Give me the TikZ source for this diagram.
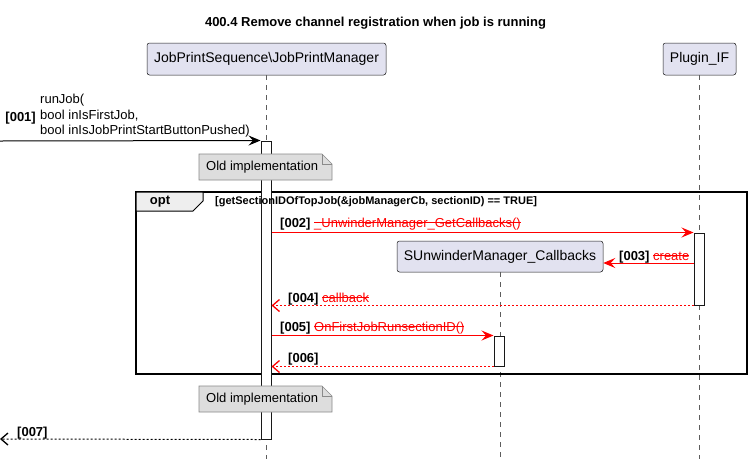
\documentclass[tikz,border=0pt]{standalone}
\usepackage{fontspec}
\setmainfont{Liberation Sans}
\usetikzlibrary{arrows.meta}

\definecolor{partfill}{HTML}{E2E2F0}
\definecolor{partline}{HTML}{181818}
\definecolor{notefill}{HTML}{DDDDDD}
\definecolor{notelineC}{HTML}{8A8A8A}
\definecolor{optfill}{HTML}{EEEEEE}
\definecolor{msgred}{HTML}{FF0000}

\newsavebox{\strkbox}
\newcommand{\strk}[1]{\sbox{\strkbox}{#1}\rlap{\raisebox{0.32em}{\rule{\wd\strkbox}{0.9pt}}}\usebox{\strkbox}}

\tikzset{
  part/.style={draw=partline, fill=partfill, rounded corners=2.5pt, line width=0.5pt,
    minimum height=32pt, inner sep=0pt, font=\fontsize{14}{16}\selectfont},
  life/.style={draw=partline!70, dash pattern=on 5pt off 5pt, line width=0.5pt},
  actbar/.style={draw=partline, fill=white, line width=1pt, minimum width=10pt, inner sep=0pt},
  call/.style={line width=1pt, -{Stealth[length=12pt,width=10pt,inset=4.5pt]}},
  ret/.style={line width=1pt, dash pattern=on 2pt off 2pt, -{Straight Barb[length=7pt,width=12pt,line width=1.3pt]}},
  msgtxt/.style={font=\fontsize{13}{15.5}\selectfont, inner sep=0pt, anchor=base west},
  notebox/.style={draw=notelineC, fill=notefill, line width=0.7pt},
  notetxt/.style={font=\fontsize{13}{15}\selectfont, inner sep=0pt, anchor=west}
}

\begin{document}
\begin{tikzpicture}[x=1pt,y=-1pt]
  \useasboundingbox[fill=white] (0,0) rectangle (751,464);

  % title
  \node[font=\bfseries\fontsize{13}{15}\selectfont] (title) at (375.5,23) {400.4 Remove channel registration when job is running};

  % participants
  \node[part, minimum width=239pt] (jpm) at (266.5,59) {JobPrintSequence\textbackslash JobPrintManager};
  \node[part, minimum width=73pt] (plug) at (699.5,59) {Plugin\_IF};
  \node[part, minimum width=206pt, minimum height=31pt] (sumc) at (500,256.5) {SUnwinderManager\_Callbacks};

  % lifelines
  \draw[life] (jpm.south) -- (jpm.south |- 0,459);
  \draw[life] (plug.south) -- (plug.south |- 0,459);
  \draw[life] (sumc.south) -- (sumc.south |- 0,459);

  % opt frame
  \draw[line width=1.5pt] (136,192) rectangle (747,374);
  \draw[fill=optfill, line width=1pt] (136,192) -- (203,192) -- (203,201) -- (193,211) -- (136,211) -- cycle;
  \node[font=\bfseries\fontsize{13}{15}\selectfont] (optlbl) at (160,202) {opt};

  % activations
  \node[actbar, minimum height=298pt] (act1) at (266,290) {};
  \node[actbar, minimum height=72pt] (act2) at (699,269) {};
  \node[actbar, minimum height=30pt] (act3) at (499,351) {};

  \node[font=\bfseries\fontsize{11}{13}\selectfont, anchor=west, inner sep=0pt] (cond) at (215,202)
    {[getSectionIDOfTopJob(\&jobManagerCb, sectionID) == TRUE]};

  % [001]
  \coordinate (in1) at (0,141);
  \draw[call] (in1) -- (act1.north west);
  \node[msgtxt, font=\bfseries\fontsize{13}{15}\selectfont, anchor=base east] (n1) at (36,121) {[001]};
  \node[font=\fontsize{13}{15.5}\selectfont, align=left, anchor=west, inner sep=0pt] (t1) at (40,116)
    {runJob(\\bool inIsFirstJob,\\bool inIsJobPrintStartButtonPushed)};

  % [002]
  \draw[call, msgred] (act1.east |- act2.north) -- (act2.north west);
  \node[msgtxt] (t2) at (280,227) {\textbf{[002]} \textcolor{msgred}{\strk{\_UnwinderManager\_GetCallbacks()}}};

  % [003]
  \coordinate (c3) at (0,263);
  \draw[call, msgred] (act2.west |- c3) -- (sumc.east |- c3);
  \node[msgtxt] (t3) at (619,260) {\textbf{[003]} \textcolor{msgred}{\strk{create}}};

  % [004]
  \draw[ret, msgred] (act2.south west) -- (act1.east |- act2.south);
  \node[msgtxt] (t4) at (288,302) {\textbf{[004]} \textcolor{msgred}{\strk{callback}}};

  % [005]
  \draw[call, msgred] (act1.east |- act3.north) -- (act3.north west);
  \node[msgtxt] (t5) at (280,331) {\textbf{[005]} \textcolor{msgred}{\strk{OnFirstJobRunsectionID()}}};

  % [006]
  \draw[ret, msgred] (act3.south west) -- (act1.east |- act3.south);
  \node[msgtxt] (t6) at (288,362) {\textbf{[006]}};

  % [007]
  \coordinate (out7) at (0,439);
  \draw[ret] (act1.south west) -- (out7);
  \node[msgtxt] (t7) at (17,436) {\textbf{[007]}};

  % notes
  \draw[notebox] (199,154) -- (322,154) -- (332,164) -- (332,180) -- (199,180) -- cycle;
  \draw[notebox, fill=none] (322,154) -- (322,164) -- (332,164);
  \node[notetxt] (note1) at (206,167) {Old implementation};
  \draw[notebox] (199,386) -- (322,386) -- (332,396) -- (332,412) -- (199,412) -- cycle;
  \draw[notebox, fill=none] (322,386) -- (322,396) -- (332,396);
  \node[notetxt] (note2) at (206,399) {Old implementation};
\end{tikzpicture}
\end{document}
